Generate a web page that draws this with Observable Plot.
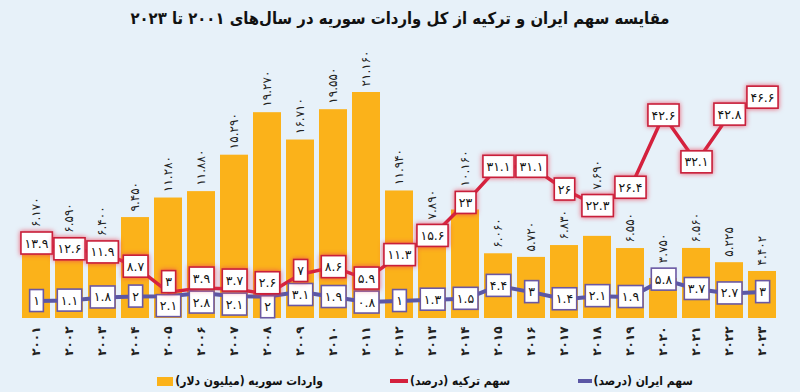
<!DOCTYPE html>
<html><head><meta charset="utf-8">
<script src="https://cdn.jsdelivr.net/npm/d3@7"></script>
<script src="https://cdn.jsdelivr.net/npm/@observablehq/plot@0.6"></script>
<style>
body{margin:0;background:#e7f1f9;font-family:"DejaVu Sans",sans-serif;}
#wrap{position:relative;width:800px;height:392px;overflow:hidden;background:#e7f1f9;}
#title{position:absolute;top:0;left:0;width:800px;height:40px;line-height:38px;text-align:center;font-family:"DejaVu Sans Condensed","DejaVu Sans",sans-serif;font-weight:bold;font-size:16.5px;direction:rtl;color:#111;}
#chart{position:absolute;top:40px;left:0;width:800px;height:325px;}
#chart svg{position:absolute;top:0;left:0;}
.leg{position:absolute;top:372px;height:18px;line-height:18px;font-family:"DejaVu Sans Condensed","DejaVu Sans",sans-serif;font-size:12px;font-weight:bold;direction:rtl;white-space:nowrap;color:#111;display:flex;align-items:center;}
.sw{display:inline-block;margin-right:2px;}
</style>
</head><body>
<div id="wrap">
  <div id="title">مقایسه سهم ایران و ترکیه از کل واردات سوریه در سال‌های ۲۰۰۱ تا ۲۰۲۳</div>
  <div id="chart"></div>
  <div class="leg" style="right:477px"><span>واردات سوریه (میلیون دلار)</span><span class="sw" style="width:16px;height:9px;background:#fbb21a"></span></div>
  <div class="leg" style="right:290px"><span>سهم ترکیه (درصد)</span><span class="sw" style="width:18px;height:4px;background:#d4213d"></span></div>
  <div class="leg" style="right:107px"><span>سهم ایران (درصد)</span><span class="sw" style="width:14px;height:4px;background:#5b57a5"></span></div>
</div>
<script>
const years = [2001,2002,2003,2004,2005,2006,2007,2008,2009,2010,2011,2012,2013,2014,2015,2016,2017,2018,2019,2020,2021,2022,2023];
const imports = [6170,6590,6400,9450,11280,11880,15290,19270,16710,19550,21160,11940,7890,10160,6060,5720,6830,7690,6550,3750,6560,5225,4402];
const turkeyShare = [13.9,12.6,11.9,8.7,3,3.9,3.7,2.6,7,8.6,5.9,11.3,15.6,23,31.1,31.1,26,22.3,26.4,42.6,32.1,42.8,46.6];
const iranShare = [1,1.1,1.8,2,2.1,2.8,2.1,2,3.1,1.9,0.8,1,1.3,1.5,4.4,3,1.4,2.1,1.9,5.8,3.7,2.7,3];

const faDigits = "۰۱۲۳۴۵۶۷۸۹";
const toFa = s => String(s).replace(/[0-9]/g, c => faDigits[+c]);
const fmtThousands = v => toFa(d3.format(",")(v).replace(/,/g, "."));

const data = years.map((y, i) => ({year: y, imports: imports[i], turkey: turkeyShare[i], iran: iranShare[i]}));

const W = 800, H = 325;
const xOpts = {type: "band", domain: years, paddingInner: 0.15, paddingOuter: 0.075, axis: null};
const font = {fontFamily: "DejaVu Sans", background: "transparent", overflow: "visible"};

const bars = Plot.plot({
  width: W, height: H,
  marginLeft: 8, marginRight: 10.5, marginTop: 52, marginBottom: 47,
  style: font,
  x: xOpts,
  y: {domain: [0, d3.max(imports)], axis: null},
  marks: [
    Plot.barY(data, {x: "year", y: "imports", fill: "#fbb21a"}),
    Plot.text(data, {x: "year", y: "imports", text: d => fmtThousands(d.imports), rotate: -90, textAnchor: "start", dy: -6, fontSize: 12, fill: "#222", ariaDescription: "bar-labels"}),
    Plot.text(data, {x: "year", y: 0, text: d => toFa(d.year), rotate: -90, textAnchor: "end", dy: 8, fontSize: 12, fontWeight: "bold", fill: "#222"})
  ]
});

const lines = Plot.plot({
  width: W, height: H,
  marginLeft: 8, marginRight: 10.5, marginTop: 42, marginBottom: 60,
  style: font,
  x: xOpts,
  y: {domain: [0, 50], axis: null},
  marks: [
    Plot.line(data, {x: "year", y: "iran", stroke: "#5b57a5", strokeWidth: 4}),
    Plot.line(data, {x: "year", y: "turkey", stroke: "#d4213d", strokeWidth: 3.5}),
    Plot.text(data, {x: "year", y: "iran", text: d => toFa(d.iran), fontSize: 12.5, fill: "#111", ariaDescription: "iran-labels"}),
    Plot.text(data, {x: "year", y: "turkey", text: d => toFa(d.turkey), fontSize: 12.5, fill: "#111", ariaDescription: "turkey-labels"})
  ]
});

const chart = document.getElementById("chart");
chart.appendChild(bars);
chart.appendChild(lines);

const SVGNS = "http://www.w3.org/2000/svg";
function boxLabels(g, stroke, glow) {
  const out = [];
  if (!g) return out;
  g.querySelectorAll("text").forEach(t => {
    const b = t.getBBox();
    const r = document.createElementNS(SVGNS, "rect");
    const px = 3.5, py = 3.5;
    r.setAttribute("x", b.x - px);
    r.setAttribute("y", b.y - py);
    r.setAttribute("width", b.width + 2 * px);
    r.setAttribute("height", b.height + 2 * py);
    if (t.getAttribute("transform")) r.setAttribute("transform", t.getAttribute("transform"));
    r.setAttribute("fill", "#fff");
    r.setAttribute("stroke", stroke);
    r.setAttribute("stroke-width", 1.6);
    if (glow) r.setAttribute("style", "filter: drop-shadow(0 0 2.5px " + glow + ")");
    t.parentNode.insertBefore(r, t);
    out.push({t, r});
  });
  return out;
}
function shift(el, dy) {
  el.setAttribute("transform", `translate(0,${dy}) ` + (el.getAttribute("transform") || ""));
}
const textGroups = lines.querySelectorAll('g[aria-label="text"]');
const gIran = lines.querySelector('g[aria-description="iran-labels"]') || textGroups[0];
const gTurkey = lines.querySelector('g[aria-description="turkey-labels"]') || textGroups[1];
const iranBoxes = boxLabels(gIran, "#6a58a3", null);
const turkeyBoxes = boxLabels(gTurkey, "#c81f3a", "rgba(235,60,85,0.85)");

// keep Turkey and Iran boxes of the same year apart
turkeyBoxes.forEach((tb, i) => {
  const ib = iranBoxes[i];
  if (!ib) return;
  const a = tb.r.getBoundingClientRect(), b = ib.r.getBoundingClientRect();
  const ov = a.bottom - b.top + 2;
  if (ov > 0) {
    shift(tb.t, -ov / 2); shift(tb.r, -ov / 2);
    shift(ib.t, ov / 2); shift(ib.r, ov / 2);
  }
});

// lift bar value labels above any box of the same year that would cover them
const barTextGroups = bars.querySelectorAll('g[aria-label="text"]');
const gBar = bars.querySelector('g[aria-description="bar-labels"]') || barTextGroups[0];
if (gBar) {
  gBar.querySelectorAll("text").forEach((t, i) => {
    const l = t.getBoundingClientRect();
    let limit = l.bottom;
    [turkeyBoxes[i], iranBoxes[i]].forEach(bx => {
      if (!bx) return;
      const r = bx.r.getBoundingClientRect();
      if (r.bottom > l.top - 4 && r.top < l.bottom + 5) limit = Math.min(limit, r.top - 5);
    });
    if (limit < l.bottom) shift(t, limit - l.bottom);
  });
}
</script>
</body></html>
